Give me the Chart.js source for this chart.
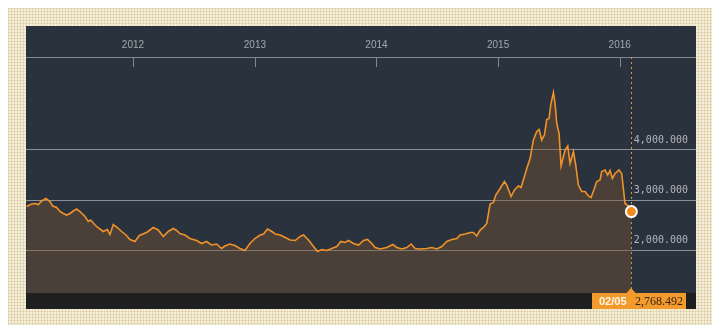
<!DOCTYPE html>
<html><head><meta charset="utf-8">
<script src="https://cdn.jsdelivr.net/npm/chart.js@4.4.1/dist/chart.umd.min.js"></script>
<style>
html,body{margin:0;padding:0;background:#fff;width:720px;height:334px;overflow:hidden}
#frame{position:absolute;left:8px;top:8px;width:704px;height:317px;background-color:#f6efd8;
background-image:linear-gradient(90deg,rgba(190,170,120,.30) 1px,transparent 1px),linear-gradient(rgba(190,170,120,.30) 1px,transparent 1px);background-size:3px 3px}
#panel{position:absolute;left:26px;top:26px;width:670px;height:283px;background:#29323d}
canvas{display:block}
</style></head><body>
<div id="frame"></div>
<div id="panel"><canvas id="c" width="670" height="283"></canvas></div>
<script>
const dates = [
"2011-02-16","2011-03-03","2011-03-13","2011-03-23","2011-04-02","2011-04-15","2011-04-27","2011-05-05","2011-05-17","2011-05-27",
"2011-06-06","2011-06-16","2011-06-26","2011-07-06","2011-07-16","2011-07-26","2011-08-10","2011-08-20","2011-08-27","2011-09-09",
"2011-09-24","2011-10-04","2011-10-16","2011-10-24","2011-11-03","2011-11-15","2011-11-28","2011-12-11","2011-12-23","2012-01-07",
"2012-01-20",
"2012-02-11","2012-03-02","2012-03-17","2012-04-01","2012-04-16","2012-05-01","2012-05-11","2012-05-21","2012-06-05","2012-06-20",
"2012-07-10","2012-07-25","2012-08-09","2012-08-24","2012-09-08","2012-09-23","2012-10-03","2012-10-18","2012-11-02","2012-11-17",
"2012-12-02","2012-12-17","2013-01-01",
"2013-01-17","2013-01-27","2013-02-08","2013-02-21","2013-03-03","2013-03-18","2013-04-02","2013-04-17","2013-05-02","2013-05-17",
"2013-05-27","2013-06-11","2013-06-26","2013-07-08","2013-07-21","2013-08-05","2013-08-20","2013-09-04","2013-09-16","2013-09-29",
"2013-10-09","2013-10-24","2013-11-08","2013-11-23","2013-12-05","2013-12-18","2013-12-28",
"2014-01-12","2014-02-01","2014-02-19","2014-03-03","2014-03-18","2014-04-02","2014-04-15","2014-04-27","2014-05-12","2014-06-01",
"2014-06-16","2014-07-01","2014-07-16","2014-07-31","2014-08-15","2014-08-30","2014-09-09","2014-09-24","2014-10-09","2014-10-19",
"2014-10-29","2014-11-08","2014-11-18","2014-11-28","2014-12-03","2014-12-08","2014-12-18","2014-12-25",
"2015-01-07","2015-01-20","2015-01-27","2015-02-09","2015-02-19","2015-03-03","2015-03-11","2015-03-21","2015-03-28","2015-04-07",
"2015-04-17","2015-04-27","2015-05-04","2015-05-12","2015-05-20","2015-05-27","2015-06-03","2015-06-08","2015-06-16","2015-06-21",
"2015-06-26","2015-07-03","2015-07-09","2015-07-16","2015-07-21","2015-07-29","2015-08-05","2015-08-15","2015-08-22","2015-08-30",
"2015-09-09","2015-09-19","2015-09-29","2015-10-07","2015-10-17","2015-10-24","2015-11-03","2015-11-08","2015-11-18","2015-11-26",
"2015-12-03","2015-12-10","2015-12-18","2015-12-30","2016-01-07","2016-01-17","2016-01-27","2016-02-05"
];
const values = [
2870,2920,2930,2910,2980,3030,2970,2880,2850,2770,
2730,2700,2730,2780,2820,2770,2670,2570,2600,2500,
2420,2370,2410,2310,2510,2450,2370,2300,2210,2170,
2290,
2350,2450,2400,2270,2370,2430,2390,2330,2300,2230,
2190,2130,2170,2100,2120,2030,2080,2120,2090,2030,
1990,2130,2230,
2300,2320,2420,2370,2320,2300,2250,2200,2190,2270,
2300,2200,2070,1970,2010,1990,2030,2070,2170,2150,
2190,2130,2100,2190,2210,2130,2050,
2020,2050,2110,2050,2020,2050,2120,2030,2020,2030,
2050,2020,2070,2170,2210,2230,2300,2320,2350,2350,
2280,2400,2450,2530,2730,2920,2950,3100,
3230,3370,3300,3070,3200,3280,3250,3470,3630,3830,
4200,4370,4410,4200,4300,4610,4630,4900,5150,4930,
4530,4330,3680,3870,4000,4080,3730,3970,3700,3300,
3170,3170,3080,3050,3230,3370,3400,3570,3600,3500,
3590,3430,3530,3600,3530,2930,2880,2768.492
];
const yearTicks = [2012, 2013, 2014, 2015, 2016];
const yTickValues = [2000, 3000, 4000];

function toMs(s){ const p = s.split('-').map(Number); return Date.UTC(p[0], p[1]-1, p[2]); }
const fmt3 = v => v.toLocaleString('en-US',{minimumFractionDigits:3, maximumFractionDigits:3});
const last = values.length - 1;

const deco = {
  id: 'deco',
  beforeDraw(chart){
    const {ctx, chartArea:a, width, height} = chart;
    ctx.save();
    ctx.fillStyle = '#29323d'; ctx.fillRect(0,0,width,height);
    ctx.fillStyle = '#1f1f20'; ctx.fillRect(0,a.bottom,width,height-a.bottom);
    ctx.restore();
  },
  beforeDatasetsDraw(chart){
    const {ctx, chartArea:a, scales} = chart;
    const x = Math.round(scales.x.getPixelForValue(toMs(dates[last]))) + 0.5;
    ctx.save();
    ctx.strokeStyle = '#d49a3c'; ctx.lineWidth = 1; ctx.setLineDash([2,3]);
    ctx.beginPath(); ctx.moveTo(x, a.top); ctx.lineTo(x, a.bottom); ctx.stroke();
    ctx.restore();
  },
  afterDatasetsDraw(chart){
    const {ctx, chartArea:a, scales} = chart;
    ctx.save();
    ctx.strokeStyle = '#7f868e'; ctx.lineWidth = 1;
    scales.x.ticks.forEach(t => {
      const x = Math.round(scales.x.getPixelForValue(t.value)) + 0.5;
      ctx.beginPath(); ctx.moveTo(x, a.top); ctx.lineTo(x, a.top + 10); ctx.stroke();
    });
    ctx.fillStyle = '#b3b7bc';
    ctx.font = '10px "DejaVu Sans Mono", monospace';
    ctx.textAlign = 'right'; ctx.textBaseline = 'middle';
    yTickValues.forEach(v => {
      ctx.fillText(fmt3(v), a.right - 8, scales.y.getPixelForValue(v) - 10);
    });
    const x = Math.round(scales.x.getPixelForValue(toMs(dates[last])));
    const top = a.bottom, h = chart.height - a.bottom;
    ctx.fillStyle = '#f39a2c';
    ctx.fillRect(x - 39, top, 94, h);
    ctx.beginPath(); ctx.moveTo(x - 5, top + 0.5); ctx.lineTo(x, top - 5); ctx.lineTo(x + 5, top + 0.5); ctx.closePath(); ctx.fill();
    const p = dates[last].split('-');
    ctx.textAlign = 'left';
    ctx.fillStyle = '#fff6ea';
    ctx.font = 'bold 11px "Liberation Sans", Arial, sans-serif';
    ctx.fillText(p[1] + '/' + p[2], x - 32, top + h/2 + 0.5);
    ctx.fillStyle = '#3a230f';
    ctx.font = '12px "Liberation Serif", serif';
    ctx.fillText(fmt3(values[last]), x + 4, top + h/2 + 0.5);
    ctx.restore();
  }
};

new Chart(document.getElementById('c'), {
  type: 'line',
  data: {
    datasets: [{
      data: dates.map((d, i) => ({x: toMs(d), y: values[i]})),
      borderColor: '#f0922a',
      borderWidth: 1.6,
      backgroundColor: 'rgba(125,84,47,0.42)',
      fill: 'start',
      tension: 0,
      clip: false,
      pointRadius: c => c.dataIndex === last ? 5.5 : 0,
      pointHoverRadius: c => c.dataIndex === last ? 5.5 : 0,
      pointBackgroundColor: '#f28a1c',
      pointBorderColor: '#ffffff',
      pointBorderWidth: 2
    }]
  },
  options: {
    responsive: false,
    animation: false,
    layout: {autoPadding: false, padding: {left: 0, right: 0, top: 0, bottom: 16}},
    plugins: {legend: {display: false}, tooltip: {enabled: false}},
    scales: {
      x: {
        type: 'linear', position: 'top',
        min: Date.UTC(2011, 1, 14), max: Date.UTC(2016, 7, 17),
        afterBuildTicks: s => { s.ticks = yearTicks.map(y => ({value: Date.UTC(y, 0, 1)})); },
        afterFit: s => { s.height = 31; },
        grid: {display: false, drawTicks: false},
        border: {display: true, color: '#7f868e', width: 1},
        ticks: {autoSkip: false, maxRotation: 0, padding: 6, color: '#a3a8ae',
          font: {family: '"Liberation Sans", Arial, sans-serif', size: 10},
          callback: v => String(new Date(v).getUTCFullYear())}
      },
      y: {
        type: 'linear', position: 'right',
        min: 1140, max: 5860,
        afterBuildTicks: s => { s.ticks = yTickValues.map(v => ({value: v})); },
        afterFit: s => { s.width = 0; },
        grid: {color: '#8b9198', lineWidth: 1, drawTicks: false},
        border: {display: false},
        ticks: {display: false}
      }
    }
  },
  plugins: [deco]
});
</script>
</body></html>
